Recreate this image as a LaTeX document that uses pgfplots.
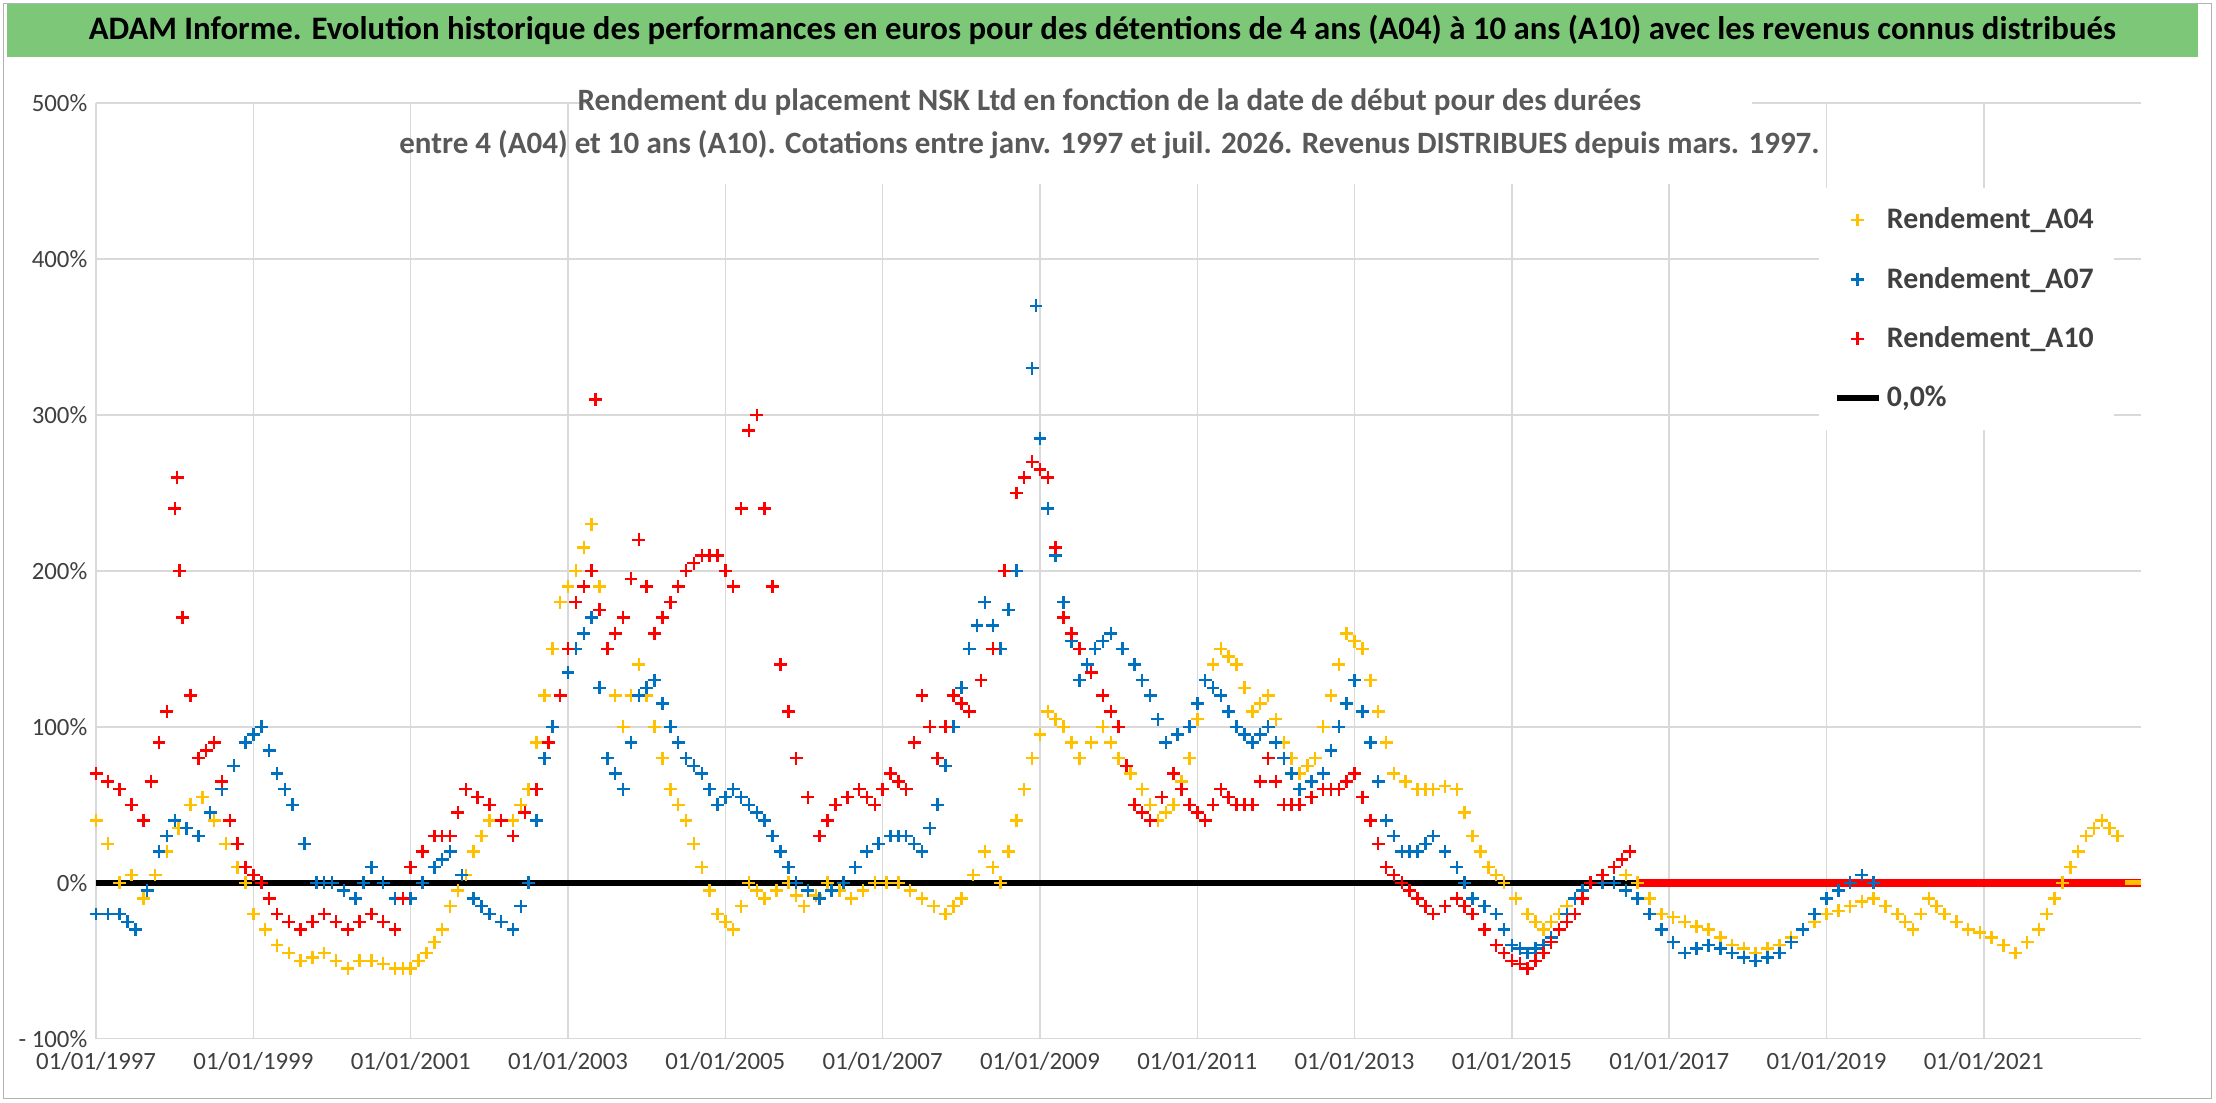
\documentclass[border=0pt]{standalone}
\usepackage{pgfplots}
\pgfplotsset{compat=1.18}
\usepackage{fontspec}
\setmainfont{Carlito}
\definecolor{cA}{RGB}{255,192,0}
\definecolor{cB}{RGB}{0,112,192}
\definecolor{cC}{RGB}{255,0,0}
\definecolor{gbar}{RGB}{125,200,120}
\begin{document}
\begin{tikzpicture}
\useasboundingbox (0,0) rectangle (31.36,15.6);
\fill[white] (0,0) rectangle (31.36,15.6);
\draw[gray!60] (0.05,0.05) rectangle (31.3,15.55);
\fill[gbar] (0.1,14.8) rectangle (31.1,15.55);
\node[font=\fontsize{13.2}{16}\selectfont\bfseries] at (15.6,15.17) {ADAM Informe. Evolution historique des performances en euros pour des détentions de 4 ans (A04) à 10 ans (A10) avec les revenus connus distribués};
\begin{axis}[at={(1.36cm,0.9cm)},anchor=south west,scale only axis,
 width=28.94cm,height=13.24cm,
 xmin=1997,xmax=2023,ymin=-100,ymax=500,
 xtick={1997,1999,2001,2003,2005,2007,2009,2011,2013,2015,2017,2019,2021},
 xticklabels={01/01/1997,01/01/1999,01/01/2001,01/01/2003,01/01/2005,01/01/2007,01/01/2009,01/01/2011,01/01/2013,01/01/2015,01/01/2017,01/01/2019,01/01/2021},
 ytick={-100,0,100,200,300,400,500},
 yticklabels={- 100\%,0\%,100\%,200\%,300\%,400\%,500\%},
 grid=major,grid style={gray!30,line width=0.6pt},
 axis line style={draw=none},tick style={draw=none},
 ticklabel style={font=\fontsize{10}{12}\selectfont,text=black!75},
 xticklabel style={yshift=-2pt},
 legend style={at={(0.842,0.91)},anchor=north west,draw=none,fill=white,font=\fontsize{12}{14}\selectfont\bfseries,text=black!75,row sep=10pt,inner sep=6pt},
 legend cell align=left,
 mark size=2.6pt]
\addplot[only marks,mark=+,cA,mark options={line width=1pt}] table {
1997.0 40
1997.15 25
1997.3 0
1997.45 5
1997.6 -10
1997.75 5
1997.9 20
1998.05 35
1998.2 50
1998.35 55
1998.5 40
1998.65 25
1998.8 10
1998.9 0
1999.0 -20
1999.15 -30
1999.3 -40
1999.45 -45
1999.6 -50
1999.75 -48
1999.9 -45
2000.05 -50
2000.2 -55
2000.35 -50
2000.5 -50
2000.65 -52
2000.8 -55
2000.9 -55
2001.0 -55
2001.1 -50
2001.2 -45
2001.3 -38
2001.4 -30
2001.5 -15
2001.6 -5
2001.7 5
2001.8 20
2001.9 30
2002.0 40
2002.15 40
2002.3 40
2002.4 50
2002.5 60
2002.6 90
2002.7 120
2002.8 150
2002.9 180
2003.0 190
2003.1 200
2003.2 215
2003.3 230
2003.4 190
2003.5 150
2003.6 120
2003.7 100
2003.8 120
2003.9 140
2004.0 120
2004.1 100
2004.2 80
2004.3 60
2004.4 50
2004.5 40
2004.6 25
2004.7 10
2004.8 -5
2004.9 -20
2005.0 -25
2005.1 -30
2005.2 -15
2005.3 0
2005.4 -5
2005.5 -10
2005.65 -5
2005.8 0
2005.9 -8
2006.0 -15
2006.15 -8
2006.3 0
2006.45 -5
2006.6 -10
2006.75 -5
2006.9 0
2007.05 0
2007.2 0
2007.35 -5
2007.5 -10
2007.65 -15
2007.8 -20
2007.9 -15
2008.0 -10
2008.15 5
2008.3 20
2008.4 10
2008.5 0
2008.6 20
2008.7 40
2008.8 60
2008.9 80
2009.0 95
2009.1 110
2009.2 105
2009.3 100
2009.4 90
2009.5 80
2009.65 90
2009.8 100
2009.9 90
2010.0 80
2010.15 70
2010.3 60
2010.4 50
2010.5 40
2010.6 45
2010.7 50
2010.8 65
2010.9 80
2011.0 105
2011.1 130
2011.2 140
2011.3 150
2011.4 145
2011.5 140
2011.6 125
2011.7 110
2011.8 115
2011.9 120
2012.0 105
2012.1 90
2012.2 80
2012.3 70
2012.4 75
2012.5 80
2012.6 100
2012.7 120
2012.8 140
2012.9 160
2013.0 155
2013.1 150
2013.2 130
2013.3 110
2013.4 90
2013.5 70
2013.65 65
2013.8 60
2013.9 60
2014.0 60
2014.15 62
2014.3 60
2014.4 45
2014.5 30
2014.6 20
2014.7 10
2014.8 5
2014.9 0
2015.05 -10
2015.2 -20
2015.3 -25
2015.4 -30
2015.5 -25
2015.6 -20
2015.7 -15
2015.8 -10
2015.9 -5
2016.0 0
2016.15 5
2016.3 10
2016.45 5
2016.6 0
2016.75 -10
2016.9 -20
2017.05 -22
2017.2 -25
2017.35 -28
2017.5 -30
2017.65 -35
2017.8 -40
2017.95 -42
2018.1 -45
2018.25 -42
2018.4 -40
2018.55 -35
2018.7 -30
2018.85 -25
2019.0 -20
2019.15 -18
2019.3 -15
2019.45 -12
2019.6 -10
2019.75 -15
2019.9 -20
2020.0 -25
2020.1 -30
2020.2 -20
2020.3 -10
2020.4 -15
2020.5 -20
2020.65 -25
2020.8 -30
2020.95 -32
2021.1 -35
2021.25 -40
2021.4 -45
2021.55 -38
2021.7 -30
2021.8 -20
2021.9 -10
2022.0 0
2022.1 10
2022.2 20
2022.3 30
2022.4 35
2022.5 40
2022.6 35
2022.7 30
};
\addlegendentry{Rendement\_A04}
\addplot[only marks,mark=+,cB,mark options={line width=1pt}] table {
1997.0 -20
1997.15 -20
1997.3 -20
1997.4 -25
1997.5 -30
1997.65 -5
1997.8 20
1997.9 30
1998.0 40
1998.15 35
1998.3 30
1998.45 45
1998.6 60
1998.75 75
1998.9 90
1999.0 95
1999.1 100
1999.2 85
1999.3 70
1999.4 60
1999.5 50
1999.65 25
1999.8 0
1999.9 0
2000.0 0
2000.15 -5
2000.3 -10
2000.4 0
2000.5 10
2000.65 0
2000.8 -10
2000.9 -10
2001.0 -10
2001.15 0
2001.3 10
2001.4 15
2001.5 20
2001.65 5
2001.8 -10
2001.9 -15
2002.0 -20
2002.15 -25
2002.3 -30
2002.4 -15
2002.5 0
2002.6 40
2002.7 80
2002.8 100
2002.9 120
2003.0 135
2003.1 150
2003.2 160
2003.3 170
2003.4 125
2003.5 80
2003.6 70
2003.7 60
2003.8 90
2003.9 120
2004.0 125
2004.1 130
2004.2 115
2004.3 100
2004.4 90
2004.5 80
2004.6 75
2004.7 70
2004.8 60
2004.9 50
2005.0 55
2005.1 60
2005.2 55
2005.3 50
2005.4 45
2005.5 40
2005.6 30
2005.7 20
2005.8 10
2005.9 0
2006.05 -5
2006.2 -10
2006.35 -5
2006.5 0
2006.65 10
2006.8 20
2006.95 25
2007.1 30
2007.2 30
2007.3 30
2007.4 25
2007.5 20
2007.6 35
2007.7 50
2007.8 75
2007.9 100
2008.0 125
2008.1 150
2008.2 165
2008.3 180
2008.4 165
2008.5 150
2008.6 175
2008.7 200
2008.8 260
2008.9 330
2008.95 370
2009.0 285
2009.1 240
2009.2 210
2009.3 180
2009.4 155
2009.5 130
2009.6 140
2009.7 150
2009.8 155
2009.9 160
2010.05 150
2010.2 140
2010.3 130
2010.4 120
2010.5 105
2010.6 90
2010.75 95
2010.9 100
2011.0 115
2011.1 130
2011.2 125
2011.3 120
2011.4 110
2011.5 100
2011.6 95
2011.7 90
2011.8 95
2011.9 100
2012.0 90
2012.1 80
2012.2 70
2012.3 60
2012.45 65
2012.6 70
2012.7 85
2012.8 100
2012.9 115
2013.0 130
2013.1 110
2013.2 90
2013.3 65
2013.4 40
2013.5 30
2013.6 20
2013.7 20
2013.8 20
2013.9 25
2014.0 30
2014.15 20
2014.3 10
2014.4 0
2014.5 -10
2014.65 -15
2014.8 -20
2014.9 -30
2015.0 -40
2015.1 -42
2015.2 -45
2015.3 -42
2015.4 -40
2015.5 -35
2015.6 -30
2015.7 -20
2015.8 -10
2015.9 -5
2016.0 0
2016.15 0
2016.3 0
2016.45 -5
2016.6 -10
2016.75 -20
2016.9 -30
2017.05 -38
2017.2 -45
2017.35 -42
2017.5 -40
2017.65 -42
2017.8 -45
2017.95 -48
2018.1 -50
2018.25 -48
2018.4 -45
2018.55 -38
2018.7 -30
2018.85 -20
2019.0 -10
2019.15 -5
2019.3 0
2019.45 5
2019.6 0
};
\addlegendentry{Rendement\_A07}
\addplot[only marks,mark=+,cC,mark options={line width=1pt}] table {
1997.0 70
1997.15 65
1997.3 60
1997.45 50
1997.6 40
1997.7 65
1997.8 90
1997.9 110
1998.0 240
1998.03 260
1998.06 200
1998.1 170
1998.2 120
1998.3 80
1998.4 85
1998.5 90
1998.6 65
1998.7 40
1998.8 25
1998.9 10
1999.0 5
1999.1 0
1999.2 -10
1999.3 -20
1999.45 -25
1999.6 -30
1999.75 -25
1999.9 -20
2000.05 -25
2000.2 -30
2000.35 -25
2000.5 -20
2000.65 -25
2000.8 -30
2000.9 -10
2001.0 10
2001.15 20
2001.3 30
2001.4 30
2001.5 30
2001.6 45
2001.7 60
2001.85 55
2002.0 50
2002.15 40
2002.3 30
2002.45 45
2002.6 60
2002.75 90
2002.9 120
2003.0 150
2003.1 180
2003.2 190
2003.3 200
2003.35 310
2003.4 175
2003.5 150
2003.6 160
2003.7 170
2003.8 195
2003.9 220
2004.0 190
2004.1 160
2004.2 170
2004.3 180
2004.4 190
2004.5 200
2004.6 205
2004.7 210
2004.8 210
2004.9 210
2005.0 200
2005.1 190
2005.2 240
2005.3 290
2005.4 300
2005.5 240
2005.6 190
2005.7 140
2005.8 110
2005.9 80
2006.05 55
2006.2 30
2006.3 40
2006.4 50
2006.55 55
2006.7 60
2006.8 55
2006.9 50
2007.0 60
2007.1 70
2007.2 65
2007.3 60
2007.4 90
2007.5 120
2007.6 100
2007.7 80
2007.8 100
2007.9 120
2008.0 115
2008.1 110
2008.25 130
2008.4 150
2008.55 200
2008.7 250
2008.8 260
2008.9 270
2009.0 265
2009.1 260
2009.2 215
2009.3 170
2009.4 160
2009.5 150
2009.65 135
2009.8 120
2009.9 110
2010.0 100
2010.1 75
2010.2 50
2010.3 45
2010.4 40
2010.55 55
2010.7 70
2010.8 60
2010.9 50
2011.0 45
2011.1 40
2011.2 50
2011.3 60
2011.4 55
2011.5 50
2011.6 50
2011.7 50
2011.8 65
2011.9 80
2012.0 65
2012.1 50
2012.2 50
2012.3 50
2012.45 55
2012.6 60
2012.7 60
2012.8 60
2012.9 65
2013.0 70
2013.1 55
2013.2 40
2013.3 25
2013.4 10
2013.5 5
2013.6 0
2013.7 -5
2013.8 -10
2013.9 -15
2014.0 -20
2014.15 -15
2014.3 -10
2014.4 -15
2014.5 -20
2014.65 -30
2014.8 -40
2014.9 -45
2015.0 -50
2015.1 -52
2015.2 -55
2015.3 -50
2015.4 -45
2015.5 -38
2015.6 -30
2015.7 -25
2015.8 -20
2015.9 -10
2016.0 0
2016.15 5
2016.3 10
2016.4 15
2016.5 20
};
\addlegendentry{Rendement\_A10}
\addplot[black,line width=2.5pt,forget plot] coordinates {(1997,0)(2023,0)};
\addplot[cC,line width=3pt,forget plot] coordinates {(2016.6,0)(2023,0)};
\addplot[cA,line width=2pt,forget plot] coordinates {(2022.8,0)(2023,0)};
\addlegendimage{black,line width=2.5pt}
\addlegendentry{0,0\%}
\end{axis}
\fill[white] (8.3,13.0) rectangle (24.8,14.75);
\node[font=\fontsize{12.5}{17}\selectfont\bfseries,text=black!65,align=center] at (15.7,13.85) {Rendement du placement NSK Ltd en fonction de la date de début pour des durées\\entre 4 (A04) et 10 ans (A10). Cotations entre janv. 1997 et juil. 2026. Revenus DISTRIBUES depuis mars. 1997.};
\end{tikzpicture}
\end{document}
